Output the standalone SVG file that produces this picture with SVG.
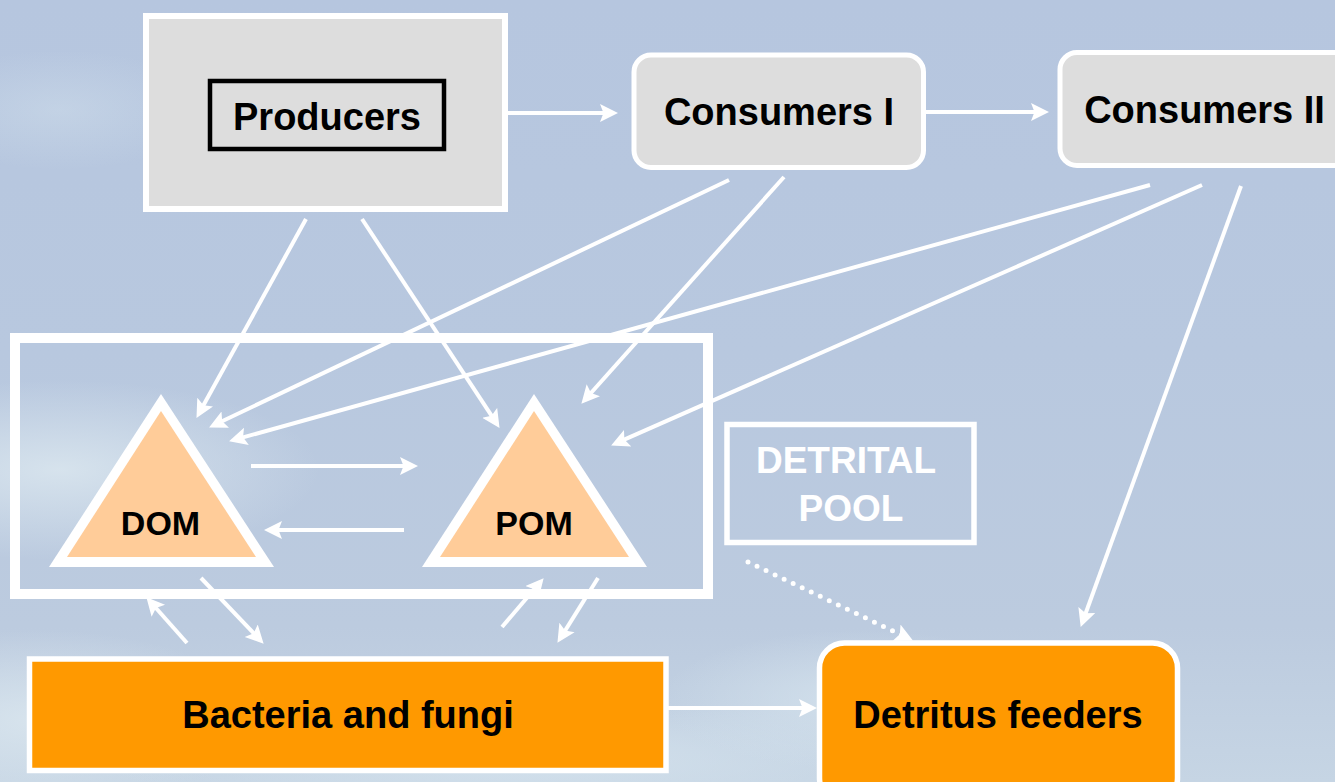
<svg xmlns="http://www.w3.org/2000/svg" width="1335" height="782" viewBox="0 0 1335 782">
  <defs>
    <linearGradient id="sky" x1="0" y1="0" x2="0" y2="1">
      <stop offset="0" stop-color="#b6c6df"/>
      <stop offset="0.45" stop-color="#b8c8df"/>
      <stop offset="0.8" stop-color="#bccbdf"/>
      <stop offset="1" stop-color="#c6d5e4"/>
    </linearGradient>
    <radialGradient id="cloud1" cx="0.5" cy="0.5" r="0.5">
      <stop offset="0" stop-color="#dbe7ef" stop-opacity="0.85"/>
      <stop offset="1" stop-color="#dbe7ef" stop-opacity="0"/>
    </radialGradient>
    <radialGradient id="cloud2" cx="0.5" cy="0.5" r="0.5">
      <stop offset="0" stop-color="#d6e4ee" stop-opacity="0.8"/>
      <stop offset="1" stop-color="#d6e4ee" stop-opacity="0"/>
    </radialGradient>
    <marker id="ah" markerUnits="userSpaceOnUse" markerWidth="20" markerHeight="20" refX="13" refY="9" orient="auto">
      <path d="M0,0 L18,9 L0,18 L3.5,9 Z" fill="#fff"/>
    </marker>
  </defs>
  <style>
    .lbl { font-family: "Liberation Sans", Arial, sans-serif; font-weight: bold; font-size: 38px; text-anchor: middle; fill: #000; }
    .tri { font-size: 34px; }
    .wlbl { fill: #fff; font-size: 37px; }
    .gray { fill: #dddddd; stroke: #fff; stroke-width: 5; }
    .orange { fill: #ff9900; stroke: #fff; stroke-width: 5.5; }
    .conn line { stroke: #fff; stroke-width: 4; fill: none; marker-end: url(#ah); }
    .conn line.dot { stroke-width: 5; stroke-dasharray: 0 10; stroke-linecap: round; }
  </style>

  <rect x="0" y="0" width="1335" height="782" fill="url(#sky)"/>
  <ellipse cx="60" cy="470" rx="260" ry="90" fill="url(#cloud1)"/>
  <ellipse cx="40" cy="720" rx="220" ry="90" fill="url(#cloud1)"/>
  <ellipse cx="520" cy="760" rx="420" ry="60" fill="url(#cloud2)"/>
  <ellipse cx="860" cy="700" rx="200" ry="70" fill="url(#cloud2)"/>
  <ellipse cx="60" cy="110" rx="150" ry="60" fill="url(#cloud2)" opacity="0.5"/>

  <g id="detrital-pool">
    <rect x="15" y="338" width="693" height="256" fill="none" stroke="#fff" stroke-width="10"/>
    <rect x="727" y="424.5" width="247" height="118" fill="none" stroke="#fff" stroke-width="5.5"/>
    <text class="lbl wlbl" x="846" y="473">DETRITAL</text>
    <text class="lbl wlbl" x="851" y="521">POOL</text>
  </g>

  <g id="producers">
    <rect x="146" y="16" width="359" height="193" fill="#dddddd" stroke="#fff" stroke-width="6"/>
    <rect x="210" y="81" width="234" height="68" fill="none" stroke="#000" stroke-width="4.5"/>
    <text class="lbl" x="327" y="130">Producers</text>
  </g>

  <g id="consumers-1">
    <rect class="gray" x="634" y="55" width="289.5" height="112.5" rx="17"/>
    <text class="lbl" x="779" y="125">Consumers I</text>
  </g>

  <g id="consumers-2">
    <rect class="gray" x="1060" y="52.5" width="300" height="113" rx="17"/>
    <text class="lbl" x="1204.5" y="123">Consumers II</text>
  </g>

  <g id="dom">
    <polygon points="161,394 49,567 274,567" fill="#fff"/>
    <polygon points="161,411 67,557 256,557" fill="#ffcc99"/>
    <text class="lbl tri" x="160.5" y="535">DOM</text>
  </g>

  <g id="pom">
    <polygon points="534,394 422,567 647,567" fill="#fff"/>
    <polygon points="534,411 440,557 629,557" fill="#ffcc99"/>
    <text class="lbl tri" x="534" y="535">POM</text>
  </g>

  <g id="bacteria-fungi">
    <rect class="orange" x="29.5" y="659" width="636.5" height="111.5"/>
    <text class="lbl" x="348" y="728">Bacteria and fungi</text>
  </g>

  <g id="detritus-feeders">
    <rect class="orange" x="819.5" y="643" width="358" height="160" rx="25" stroke-width="6"/>
    <text class="lbl" x="998" y="728">Detritus feeders</text>
  </g>

  <g id="connectors" class="conn">
    <line x1="508" y1="113" x2="613" y2="113"/>
    <line x1="926" y1="112" x2="1044" y2="112"/>
    <line x1="668" y1="708" x2="812" y2="708"/>
    <line x1="251" y1="466" x2="413" y2="466"/>
    <line x1="404" y1="530" x2="269" y2="530"/>
    <line x1="306" y1="219" x2="198.9" y2="413.5"/>
    <line x1="729" y1="180" x2="213.6" y2="425.3"/>
    <line x1="1150" y1="185" x2="233.9" y2="439.9"/>
    <line x1="362" y1="219" x2="496.8" y2="423.7"/>
    <line x1="784" y1="177" x2="584.7" y2="400"/>
    <line x1="1202" y1="185" x2="615.7" y2="443.4"/>
    <line x1="1241" y1="186" x2="1082.4" y2="622.2"/>
    <line x1="187" y1="643" x2="149.7" y2="601"/>
    <line x1="201" y1="578" x2="260.2" y2="640.1"/>
    <line x1="502" y1="627" x2="540.4" y2="582"/>
    <line x1="598" y1="578" x2="560.1" y2="638.6"/>
    <line class="dot" x1="748" y1="562" x2="908.4" y2="638.3"/>
  </g>
</svg>
